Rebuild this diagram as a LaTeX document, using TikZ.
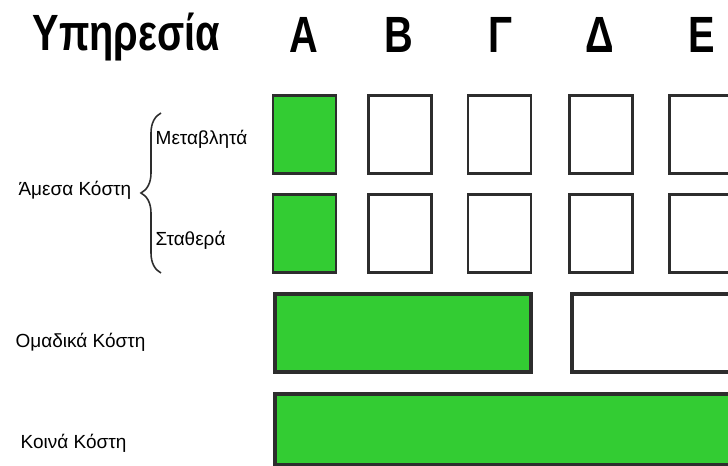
\documentclass[tikz,border=0pt]{standalone}
\usepackage{fontspec}
\setmainfont{Liberation Sans}
\newfontfamily\titlefont[FakeStretch=0.78]{Liberation Sans}
\usetikzlibrary{decorations.pathreplacing}
\definecolor{kgreen}{RGB}{51,204,51}
\definecolor{kborder}{RGB}{45,45,45}
\tikzset{
	kbox/.style={draw=kborder, line width=0.8pt, minimum width=0.63cm, minimum height=0.78cm, inner sep=0pt},
	kbar/.style={draw=kborder, line width=1.1pt, inner sep=0pt, anchor=north west},
	klabel/.style={font=\fontsize{5.4pt}{6.5pt}\selectfont, inner sep=0pt},
	khead/.style={font=\titlefont\bfseries\fontsize{14.5pt}{16pt}\selectfont, inner sep=0pt, anchor=base},
}
\begin{document}
\begin{tikzpicture}[scale=1]
	\clip (0,0) rectangle (7.28,4.66);
	%	Επικεφαλίδες
	\node[khead, anchor=base west] (titlos) at (0.32,4.15) {Υπηρεσία};
	\node[khead] (hA) at (3.04,4.13) {Α};
	\node[khead] (hB) at (3.99,4.13) {Β};
	\node[khead] (hG) at (5.00,4.13) {Γ};
	\node[khead] (hD) at (6.00,4.13) {Δ};
	\node[khead] (hE) at (7.02,4.13) {Ε};
	%	Μεταβλητά
	\node[kbox, fill=kgreen] (mA) at (3.045,3.315) {};
	\node[kbox] (mB) at (4.00,3.315) {};
	\node[kbox] (mG) at (4.995,3.315) {};
	\node[kbox] (mD) at (6.01,3.315) {};
	\node[kbox] (mE) at (7.01,3.315) {};
	%	Σταθερά
	\node[kbox, fill=kgreen] (sA) at (3.045,2.325) {};
	\node[kbox] (sB) at (4.00,2.325) {};
	\node[kbox] (sG) at (4.995,2.325) {};
	\node[kbox] (sD) at (6.01,2.325) {};
	\node[kbox] (sE) at (7.01,2.325) {};
	%	Ομαδικά - Κοινά
	\node[kbar, fill=kgreen, minimum width=2.56cm, minimum height=0.78cm] (omA) at (2.73,1.74) {};
	\node[kbar, minimum width=1.8cm, minimum height=0.78cm] (omB) at (5.70,1.74) {};
	\node[kbar, fill=kgreen, minimum width=4.9cm, minimum height=0.71cm] (koin) at (2.73,0.74) {};
	%	Ετικέτες
	\node[klabel, anchor=west] (metab) at (1.55,3.27) {Μεταβλητά};
	\node[klabel, anchor=west] (stath) at (1.55,2.26) {Σταθερά};
	\node[klabel, anchor=east] (amesa) at (1.32,2.76) {Άμεσα Κόστη};
	\node[klabel, anchor=west] (omad) at (0.15,1.24) {Ομαδικά Κόστη};
	\node[klabel, anchor=west] (koina) at (0.20,0.23) {Κοινά Κόστη};
	\path
	(1.61,1.93) coordinate (brB)
	(1.61,3.53) coordinate (brT)
	;
	\draw[kborder, line width=0.45pt, decorate, decoration={brace, amplitude=0.2cm}]
	(brB)--(brT);
\end{tikzpicture}
\end{document}
